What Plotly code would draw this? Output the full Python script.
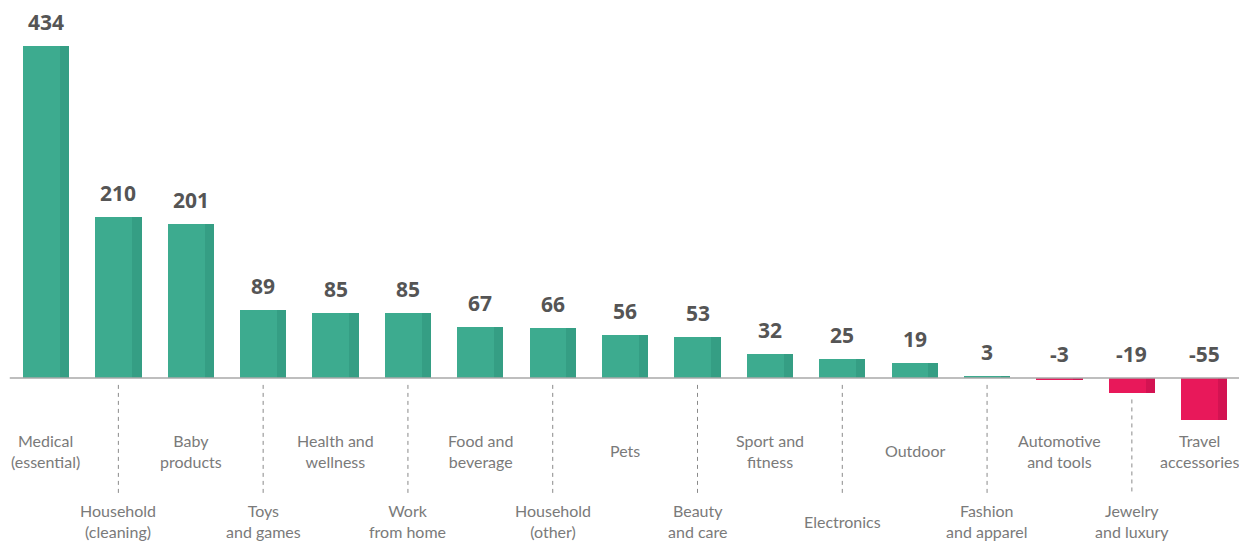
import plotly.graph_objects as go

categories = ["Medical<br>(essential)", "Household<br>(cleaning)", "Baby<br>products", "Toys<br>and games",
              "Health and<br>wellness", "Work<br>from home", "Food and<br>beverage", "Household<br>(other)",
              "Pets", "Beauty<br>and care", "Sport and<br>fitness", "Electronics", "Outdoor",
              "Fashion<br>and apparel", "Automotive<br>and tools", "Jewelry<br>and luxury", "Travel<br>accessories"]
values = [434, 210, 201, 89, 85, 85, 67, 66, 56, 53, 32, 25, 19, 3, -3, -19, -55]

GREEN, GREEN_D = "#3DAB8F", "#359E84"
RED, RED_D = "#E8185A", "#D31352"

xs = list(range(len(values)))
main_colors = [GREEN if v >= 0 else RED for v in values]
dark_colors = [GREEN_D if v >= 0 else RED_D for v in values]

fig = go.Figure()
fig.add_trace(go.Bar(x=xs, y=values, width=0.64, marker=dict(color=main_colors, line=dict(width=0)),
                     hoverinfo="skip"))
fig.add_trace(go.Bar(x=xs, y=values, width=0.13, offset=0.19,
                     marker=dict(color=dark_colors, line=dict(width=0)), hoverinfo="skip"))

# baseline
fig.add_shape(type="line", x0=-0.5, x1=17, y0=0, y1=0, xref="x", yref="y",
              line=dict(color="#A8A8A8", width=1.5), layer="above")

annotations = []
n = len(values)
for i, (c, v) in enumerate(zip(categories, values)):
    annotations.append(dict(x=i, y=max(v, 0), xref="x", yref="y", text="<b>%d</b>" % v,
                            showarrow=False, yanchor="bottom", yshift=8,
                            font=dict(family="Open Sans", size=21, color="#555555")))
    if i % 2 == 0:
        ly = -95
    else:
        ly = -187
        fig.add_shape(type="line", x0=i, x1=i, y0=min(v, 0) - 9, y1=-153, xref="x", yref="y",
                      line=dict(color="#8A8A8A", width=1, dash="4px,4px"))
    annotations.append(dict(x=i, y=ly, xref="x", yref="y", text=c, showarrow=False,
                            yanchor="middle", align="center", xshift=(-5 if i == n - 1 else 0),
                            font=dict(family="Lato", size=16, color="#7A7A7A")))

fig.update_layout(
    width=1239, height=541, margin=dict(l=0, r=0, t=0, b=0),
    plot_bgcolor="white", paper_bgcolor="white", barmode="overlay", showlegend=False,
    bargap=0,
    xaxis=dict(range=[-0.635, 16.48], visible=False, fixedrange=True),
    yaxis=dict(range=[-213, 494], visible=False, fixedrange=True),
    annotations=annotations,
)
fig.write_html("out.html", config={"displayModeBar": False},
               post_script="document.body.style.margin='0';document.body.style.overflow='hidden';")
